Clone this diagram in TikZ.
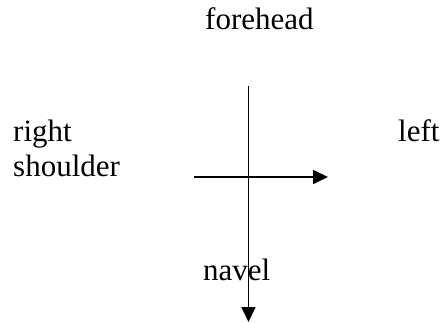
\documentclass[tikz,border=0pt]{standalone}
\usepackage{fontspec}
\setmainfont{Liberation Serif}
\usetikzlibrary{arrows.meta}
\begin{document}
\begin{tikzpicture}[x=1pt,y=-1pt,
  lbl/.style={inner sep=0pt,anchor=base west,font=\fontsize{31}{34}\selectfont},
  axis/.style={line width=1.7pt,-{Triangle[length=15pt,width=14pt]}}]
\useasboundingbox (0,0) rectangle (446,323);
\node[lbl] (fh) at (205,30) {forehead};
\node[lbl] (rs) at (13,142) {right};
\node[lbl] (sh) at (13,176) {shoulder};
\node[lbl] (lt) at (398,142) {left};
\node[lbl] (nv) at (203,280) {navel};
\coordinate (vtop) at (248.5,86);
\coordinate (vbot) at (248.5,322);
\coordinate (hl) at (194,177);
\coordinate (hr) at (328,177);
\draw[axis] (vtop) -- (vbot);
\draw[axis] (hl) -- (hr);
\end{tikzpicture}
\end{document}
